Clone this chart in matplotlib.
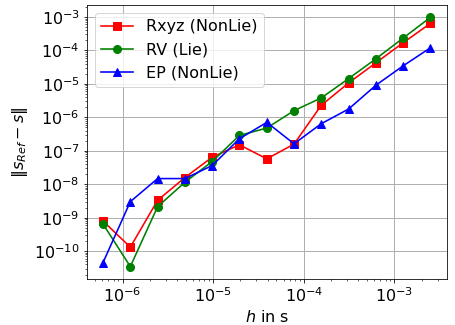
import matplotlib
matplotlib.use("Agg")
import matplotlib.pyplot as plt
import numpy as np

h = [6.1e-7, 1.22e-6, 2.44e-6, 4.88e-6, 9.77e-6, 1.95e-5, 3.91e-5,
     7.81e-5, 1.56e-4, 3.13e-4, 6.25e-4, 1.25e-3, 2.5e-3]
log_rxyz = [-9.10, -9.88, -8.48, -7.80, -7.19, -6.82, -7.24,
            -6.80, -5.64, -4.97, -4.37, -3.77, -3.19]
log_rv = [-9.19, -10.46, -8.67, -7.94, -7.32, -6.54, -6.32,
          -5.80, -5.42, -4.84, -4.25, -3.63, -3.01]
log_ep = [-10.34, -8.52, -7.83, -7.83, -7.44, -6.64, -6.15,
          -6.79, -6.19, -5.75, -5.04, -4.46, -3.92]

rxyz = [10 ** v for v in log_rxyz]
rv = [10 ** v for v in log_rv]
ep = [10 ** v for v in log_ep]

DPI = 72
plt.rcParams['font.size'] = 16
fig, ax = plt.subplots(figsize=(455 / DPI, 325 / DPI), dpi=DPI)
ax.loglog(h, rxyz, 's-', color='red', label='Rxyz (NonLie)', markersize=8, linewidth=1.6)
ax.loglog(h, rv, 'o-', color='green', label='RV (Lie)', markersize=8, linewidth=1.6)
ax.loglog(h, ep, '^-', color='blue', label='EP (NonLie)', markersize=8, linewidth=1.6)
ax.grid(True, which='major', color='#b0b0b0', linewidth=1.0)
ax.set_xlabel('$h$ in s')
ax.set_ylabel(r'$\|s_{Ref} - s\|$')
ax.legend(loc='upper left')
fig.subplots_adjust(left=0.1905, right=0.982, top=0.985, bottom=0.1415)
fig.savefig('out.png', dpi=DPI)
